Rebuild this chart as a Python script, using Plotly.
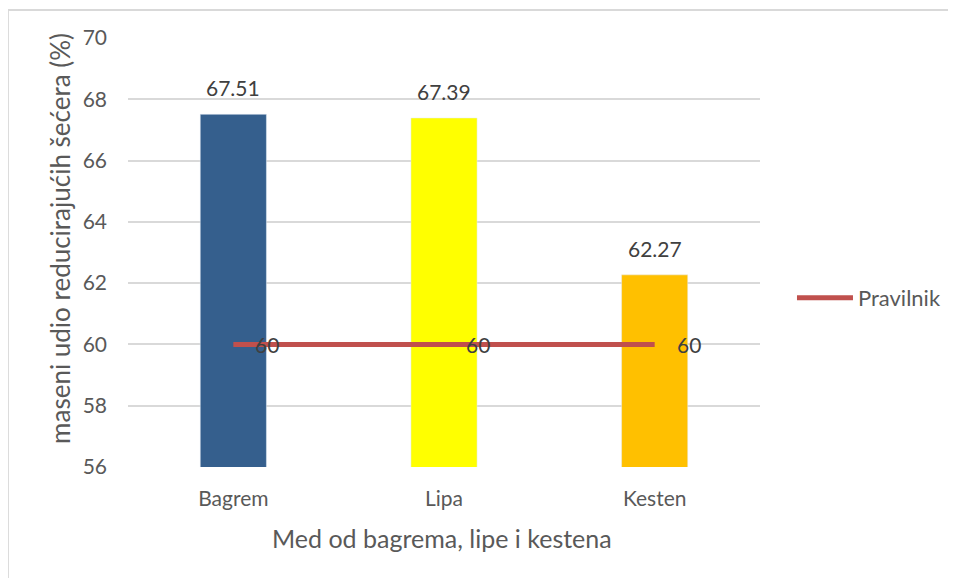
import plotly.graph_objects as go

categories = ["Bagrem", "Lipa", "Kesten"]
values = [67.51, 67.39, 62.27]
bar_colors = ["#355F8D", "#FFFF00", "#FFC000"]
limit_values = [60, 60, 60]
limit_name = "Pravilnik"
y_ticks = [56, 58, 60, 62, 64, 66, 68, 70]
x_title = "Med od bagrema, lipe i kestena"
y_title = "maseni udio reducirajućih šećera (%)"

FONT = "Lato"
GREY = "#595959"
LABEL = "#404040"

fig = go.Figure()
fig.add_trace(go.Bar(
    x=categories, y=values, marker_color=bar_colors, width=0.314,
    showlegend=False,
))
fig.add_trace(go.Scatter(
    x=categories, y=limit_values, mode="lines", name=limit_name,
    line=dict(color="#C0504D", width=5), showlegend=True,
))
for c, v in zip(categories, values):
    fig.add_annotation(x=c, y=v, text=f"{v:.2f}", showarrow=False,
                       yanchor="bottom", yshift=12,
                       font=dict(family=FONT, size=21, color=LABEL))
for c, v in zip(categories, limit_values):
    fig.add_annotation(x=c, y=v, text=str(v), showarrow=False, xshift=34,
                       font=dict(family=FONT, size=21, color=LABEL))

fig.add_annotation(text=x_title, xref="paper", yref="paper", x=0.497, y=-0.1655,
                   xanchor="center", yanchor="middle", showarrow=False,
                   font=dict(family=FONT, size=25, color=GREY))
fig.add_annotation(text=y_title, xref="paper", yref="paper", x=-0.1076, y=0.534,
                   xanchor="center", yanchor="middle", showarrow=False, textangle=-90,
                   font=dict(family=FONT, size=26, color=GREY))

fig.update_layout(
    width=948, height=570,
    margin=dict(l=120, r=196, t=30, b=111, autoexpand=False),
    paper_bgcolor="white", plot_bgcolor="white",
    font=dict(family=FONT, color=GREY),
    legend=dict(x=1.0506, y=0.394, xanchor="left", yanchor="middle",
                font=dict(family=FONT, size=22, color=GREY), itemwidth=56,
                bgcolor="rgba(0,0,0,0)"),
    xaxis=dict(
        showline=False, showgrid=False, ticks="", ticklabelstandoff=17,
        tickfont=dict(family=FONT, size=21, color=GREY),
        automargin=False,
    ),
    yaxis=dict(
        range=[56, 70], tickvals=y_ticks, showgrid=True, gridcolor="#D9D9D9",
        gridwidth=1.5, zeroline=False, showline=False, ticks="",
        ticklabelstandoff=20,
        tickfont=dict(family=FONT, size=21, color=GREY),
        automargin=False,
    ),
    shapes=[dict(type="rect", xref="paper", yref="paper",
                 x0=-0.19, x1=1.4, y0=-0.35, y1=1.065,
                 line=dict(color="#D9D9D9", width=2), layer="below")],
)
fig.write_html("out.html")
